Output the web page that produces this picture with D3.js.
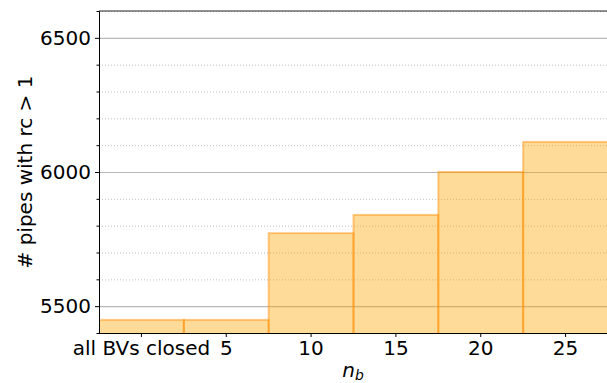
<!DOCTYPE html>
<html>
<head>
<meta charset="utf-8">
<title>pipes with rc > 1</title>
<script src="https://d3js.org/d3.v7.min.js"></script>
<style>
  body { margin: 0; background: #fff; }
  svg text { font-family: "DejaVu Sans", sans-serif; fill: #000; }
</style>
</head>
<body>
<svg width="607" height="383"></svg>
<script>
// values
const categories = ["all BVs closed", "5", "10", "15", "20", "25"];
const pipeCounts = [5449, 5449, 5772, 5840, 6000, 6112];
const yTicks = [5500, 6000, 6500];
const yMinorTicks = [5400, 5600, 5700, 5800, 5900, 6100, 6200, 6300, 6400, 6600];

const plotLeft = 99, plotTop = 11, plotBottom = 333, plotRight = 608;

const svg = d3.select("svg");

const x = d3.scaleBand()
  .domain(categories)
  .range([plotLeft, plotRight])
  .paddingInner(0).paddingOuter(0);

const y = d3.scaleLinear()
  .domain([5400, 6600])
  .range([plotBottom, plotTop]);

svg.append("clipPath").attr("id", "plot")
  .append("rect")
  .attr("x", plotLeft).attr("y", plotTop)
  .attr("width", plotRight - plotLeft).attr("height", plotBottom - plotTop);

// grid lines
const grid = svg.append("g");
grid.selectAll(".minor")
  .data(yMinorTicks)
  .join("line")
  .attr("x1", plotLeft).attr("x2", plotRight)
  .attr("y1", d => y(d) + 0.5).attr("y2", d => y(d) + 0.5)
  .attr("stroke", "#b0b0b0")
  .attr("stroke-width", 0.8)
  .attr("stroke-dasharray", "1,2");
grid.selectAll(".major")
  .data(yTicks)
  .join("line")
  .attr("x1", plotLeft).attr("x2", plotRight)
  .attr("y1", d => y(d) + 0.5).attr("y2", d => y(d) + 0.5)
  .attr("stroke", "#b8b8b8")
  .attr("stroke-width", 1.2);

// bars
svg.append("g")
  .attr("clip-path", "url(#plot)")
  .selectAll("rect")
  .data(pipeCounts)
  .join("rect")
  .attr("x", (d, i) => x(categories[i]))
  .attr("y", d => y(d))
  .attr("width", x.bandwidth())
  .attr("height", d => y(5300) - y(d))
  .attr("fill", "orange")
  .attr("fill-opacity", 0.4)
  .attr("stroke", "darkorange")
  .attr("stroke-opacity", 0.45)
  .attr("stroke-width", 2);

// axes
const yAxis = svg.append("g")
  .attr("transform", `translate(${plotLeft},0)`)
  .call(d3.axisLeft(y).tickValues(yTicks).tickSize(4).tickPadding(4).tickFormat(d3.format("d")));
yAxis.select(".domain").remove();
yAxis.selectAll("text").style("font-size", "20px");

svg.append("g")
  .attr("transform", `translate(${plotLeft},0)`)
  .call(d3.axisLeft(y).tickValues(yMinorTicks).tickSize(2.5).tickFormat(""))
  .select(".domain").remove();

const xAxis = svg.append("g")
  .attr("transform", `translate(0,${plotBottom})`)
  .call(d3.axisBottom(x).tickSize(4).tickPadding(4));
xAxis.select(".domain").remove();
xAxis.selectAll("text").style("font-size", "20px");

// spines
svg.append("line").attr("x1", plotLeft + 0.5).attr("x2", plotLeft + 0.5)
  .attr("y1", plotTop).attr("y2", plotBottom + 0.5).attr("stroke", "#000");
svg.append("line").attr("x1", plotLeft).attr("x2", plotRight)
  .attr("y1", plotBottom + 0.5).attr("y2", plotBottom + 0.5).attr("stroke", "#000");
svg.append("line").attr("x1", plotLeft).attr("x2", plotRight)
  .attr("y1", plotTop).attr("y2", plotTop).attr("stroke", "#222");

// labels
svg.append("text")
  .attr("transform", `translate(32,${(plotTop + plotBottom) / 2}) rotate(-90)`)
  .attr("text-anchor", "middle")
  .style("font-size", "20px")
  .text("# pipes with rc > 1");

const xl = svg.append("text")
  .attr("x", (plotLeft + 607) / 2)
  .attr("y", 377)
  .attr("text-anchor", "middle")
  .style("font-size", "20px")
  .style("font-style", "italic");
xl.append("tspan").text("n");
xl.append("tspan").attr("dy", 3).style("font-size", "14px").text("b");
</script>
</body>
</html>
